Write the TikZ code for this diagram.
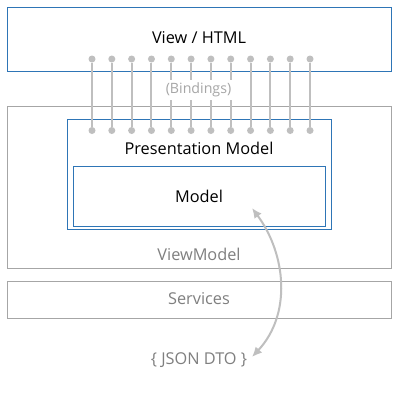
\documentclass[tikz,border=0pt]{standalone}
\usepackage{fontspec}
\setmainfont{Open Sans}
\usetikzlibrary{arrows.meta}
\definecolor{bblue}{HTML}{2E75B6}
\definecolor{bgray}{HTML}{A6A6A6}
\definecolor{lgray}{HTML}{BFBFBF}
\definecolor{tgray}{HTML}{7F7F7F}
\tikzset{
  bluebox/.style={draw=bblue, line width=1.2pt, inner sep=0pt},
  graybox/.style={draw=bgray, line width=1.2pt, inner sep=0pt},
  dot/.style={circle, fill=lgray, inner sep=0pt, minimum size=7pt},
  bind/.style={draw=lgray, line width=2pt},
  lbl/.style={font=\fontsize{16.3}{18}\selectfont, inner sep=0pt},
}
\begin{document}
\begin{tikzpicture}[x=1pt,y=-1pt]
\useasboundingbox[fill=white] (0,0) rectangle (400,400);
% boxes
\node[bluebox, minimum width=384pt, minimum height=64pt] (view) at (199.5,39.5) {};
\node[graybox, minimum width=384pt, minimum height=162pt] (vm) at (199.5,187.5) {};
\node[bluebox, fill=white, minimum width=264pt, minimum height=110pt] (pm) at (199.5,174.5) {};
\node[bluebox, minimum width=252pt, minimum height=60pt] (model) at (199.5,196.5) {};
\node[graybox, minimum width=384pt, minimum height=37pt] (svc) at (199.5,300) {};
% texts
\node[lbl] (viewt) at (199,38) {View / HTML};
\node[lbl] (pmt) at (199,148) {Presentation Model};
\node[lbl] (modelt) at (199,196) {Model};
\node[lbl, text=tgray] (vmt) at (199,254) {ViewModel};
\node[lbl, text=tgray] (svct) at (199,299) {Services};
\node[lbl, text=tgray] (json) at (199,360) {\{ JSON DTO \}};
% bindings
\foreach \i in {1,...,12}{
  \pgfmathsetmacro{\xx}{92+(\i-1)*19.82}
  \node[dot] (t\i) at (\xx,59) {};
  \node[dot] (b\i) at (\xx,130.5) {};
  \draw[bind] (t\i) -- (b\i);
}
\node[font=\fontsize{14.2}{16}\selectfont, text=bgray, fill=white, inner xsep=1pt, inner ysep=3pt] (bind) at (198.5,90) {(Bindings)};
% round trip arrow
\coordinate (a1) at (252,208);
\coordinate (a2) at (252,357);
\draw[draw=lgray, line width=2pt, {Latex[length=10pt,width=9pt]}-{Latex[length=10pt,width=9pt]}]
  (a1) .. controls (286,254) and (292,314) .. (a2);
\end{tikzpicture}
\end{document}
